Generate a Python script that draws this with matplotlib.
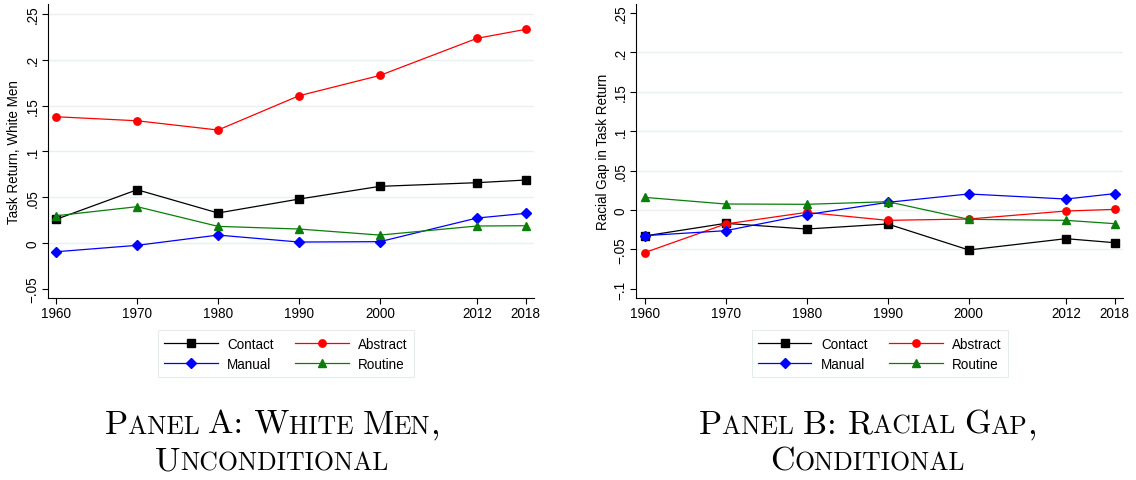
import matplotlib
matplotlib.use("Agg")
import matplotlib.pyplot as plt
from matplotlib.offsetbox import TextArea, HPacker, VPacker, AnchoredOffsetbox

years = [1960, 1970, 1980, 1990, 2000, 2012, 2018]
series_names = ["Contact", "Abstract", "Manual", "Routine"]

# Panel A: White men, unconditional
a_contact = [0.0259, 0.0582, 0.0328, 0.048, 0.0619, 0.0659, 0.0688]
a_abstract = [0.1379, 0.1335, 0.1234, 0.1608, 0.183, 0.2235, 0.2333]
a_manual = [-0.0095, -0.0025, 0.0087, 0.0011, 0.0015, 0.0273, 0.0324]
a_routine = [0.0298, 0.0397, 0.0182, 0.0153, 0.0087, 0.0186, 0.0189]

# Panel B: Racial gap, conditional
b_contact = [-0.0329, -0.0169, -0.0241, -0.0177, -0.0506, -0.0363, -0.0414]
b_abstract = [-0.054, -0.0177, -0.003, -0.0131, -0.0114, -0.0013, 0.0008]
b_manual = [-0.0325, -0.0262, -0.0059, 0.0097, 0.0203, 0.0139, 0.0207]
b_routine = [0.016, 0.0076, 0.0072, 0.0105, -0.0118, -0.0131, -0.0173]

a_yticks = [-0.05, 0, 0.05, 0.1, 0.15, 0.2, 0.25]
a_yticklabels = ["\u2212.05", "0", ".05", ".1", ".15", ".2", ".25"]
a_grid = [0, 0.05, 0.1, 0.15, 0.2, 0.25]
b_yticks = [-0.1, -0.05, 0, 0.05, 0.1, 0.15, 0.2, 0.25]
b_yticklabels = ["\u2212.1", "\u2212.05", "0", ".05", ".1", ".15", ".2", ".25"]
b_grid = [-0.05, 0, 0.05, 0.1, 0.15, 0.2]

a_ylabel = "Task Return, White Men"
b_ylabel = "Racial Gap in Task Return"
captions = [("Panel A: White Men,", "Unconditional"),
            ("Panel B: Racial Gap,", "Conditional")]

colors = ["#000000", "#ff0000", "#0000ff", "#0a7d0a"]
markers = ["s", "o", "D", "^"]
msizes = [5.3, 5.3, 5.0, 6.0]

plt.rcParams["font.family"] = ["Liberation Sans", "DejaVu Sans"]
fig = plt.figure(figsize=(11.36, 4.81), dpi=100)

axA = fig.add_axes([0.042, 0.3784, 0.4283, 0.6112])
axB = fig.add_axes([0.5599, 0.3784, 0.4290, 0.6112])

panels = [
    (axA, [a_contact, a_abstract, a_manual, a_routine], a_yticks, a_yticklabels, a_grid, a_ylabel, (-0.060, 0.261)),
    (axB, [b_contact, b_abstract, b_manual, b_routine], b_yticks, b_yticklabels, b_grid, b_ylabel, (-0.1114, 0.2608)),
]

legend_x = [0.2518, 0.7744]
legend_order = [0, 2, 1, 3]

for i, (ax, data, yt, ytl, grid, ylab, ylim) in enumerate(panels):
    handles = []
    for name, vals, c, m, ms in zip(series_names, data, colors, markers, msizes):
        h, = ax.plot(years, vals, color=c, marker=m, markersize=ms, lw=0.9,
                     markeredgecolor=c, label=name, zorder=3)
        handles.append(h)
    ax.set_xlim(1958.95, 2019.08)
    ax.set_ylim(*ylim)
    ax.set_xticks(years)
    ax.set_xticklabels([str(y) for y in years], fontsize=9.75)
    ax.set_yticks(yt)
    ax.set_yticklabels(ytl, fontsize=9.75, rotation=90, va="center")
    for y in grid:
        ax.axhline(y, color="#e8f0f2", lw=1.0, zorder=1)
    ax.set_ylabel(ylab, fontsize=9.75, labelpad=3)
    for s in ["top", "right"]:
        ax.spines[s].set_visible(False)
    ax.spines["left"].set_linewidth(0.8)
    ax.spines["bottom"].set_linewidth(0.8)
    ax.tick_params(direction="out", length=4, width=0.8, pad=2)
    leg = fig.legend(handles=[handles[k] for k in legend_order], loc="upper center",
                     bbox_to_anchor=(legend_x[i], 0.311), ncol=2, fontsize=9.75,
                     frameon=True, fancybox=False, edgecolor="#dfe8ea",
                     handlelength=3.95, columnspacing=1.6, handletextpad=0.7,
                     labelspacing=0.45, borderpad=0.45, borderaxespad=0)
    leg.get_frame().set_linewidth(0.8)

big = 24.5
small = 18.5


def smallcaps_line(text):
    runs = []
    cur = ""
    cur_big = None
    for ch in text:
        isbig = ch.isupper() or not ch.isalpha()
        if ch == " ":
            isbig = cur_big if cur_big is not None else True
        if cur_big is None or isbig == cur_big:
            cur += ch
            cur_big = isbig
        else:
            runs.append((cur, cur_big))
            cur = ch
            cur_big = isbig
    if cur:
        runs.append((cur, cur_big))
    children = []
    for t, b in runs:
        children.append(TextArea(t.upper(), textprops=dict(
            fontsize=big if b else small, family="cmr10")))
    return HPacker(children=children, align="baseline", pad=0, sep=0)


caption_x = [0.2395, 0.764]
for (l1, l2), cx in zip(captions, caption_x):
    box = VPacker(children=[smallcaps_line(l1), smallcaps_line(l2)],
                  align="center", pad=0, sep=5)
    anch = AnchoredOffsetbox(loc="center", child=box, pad=0, frameon=False,
                             bbox_to_anchor=(cx, 0.078),
                             bbox_transform=fig.transFigure, borderpad=0)
    fig.add_artist(anch)

fig.savefig("out.png", dpi=100)
